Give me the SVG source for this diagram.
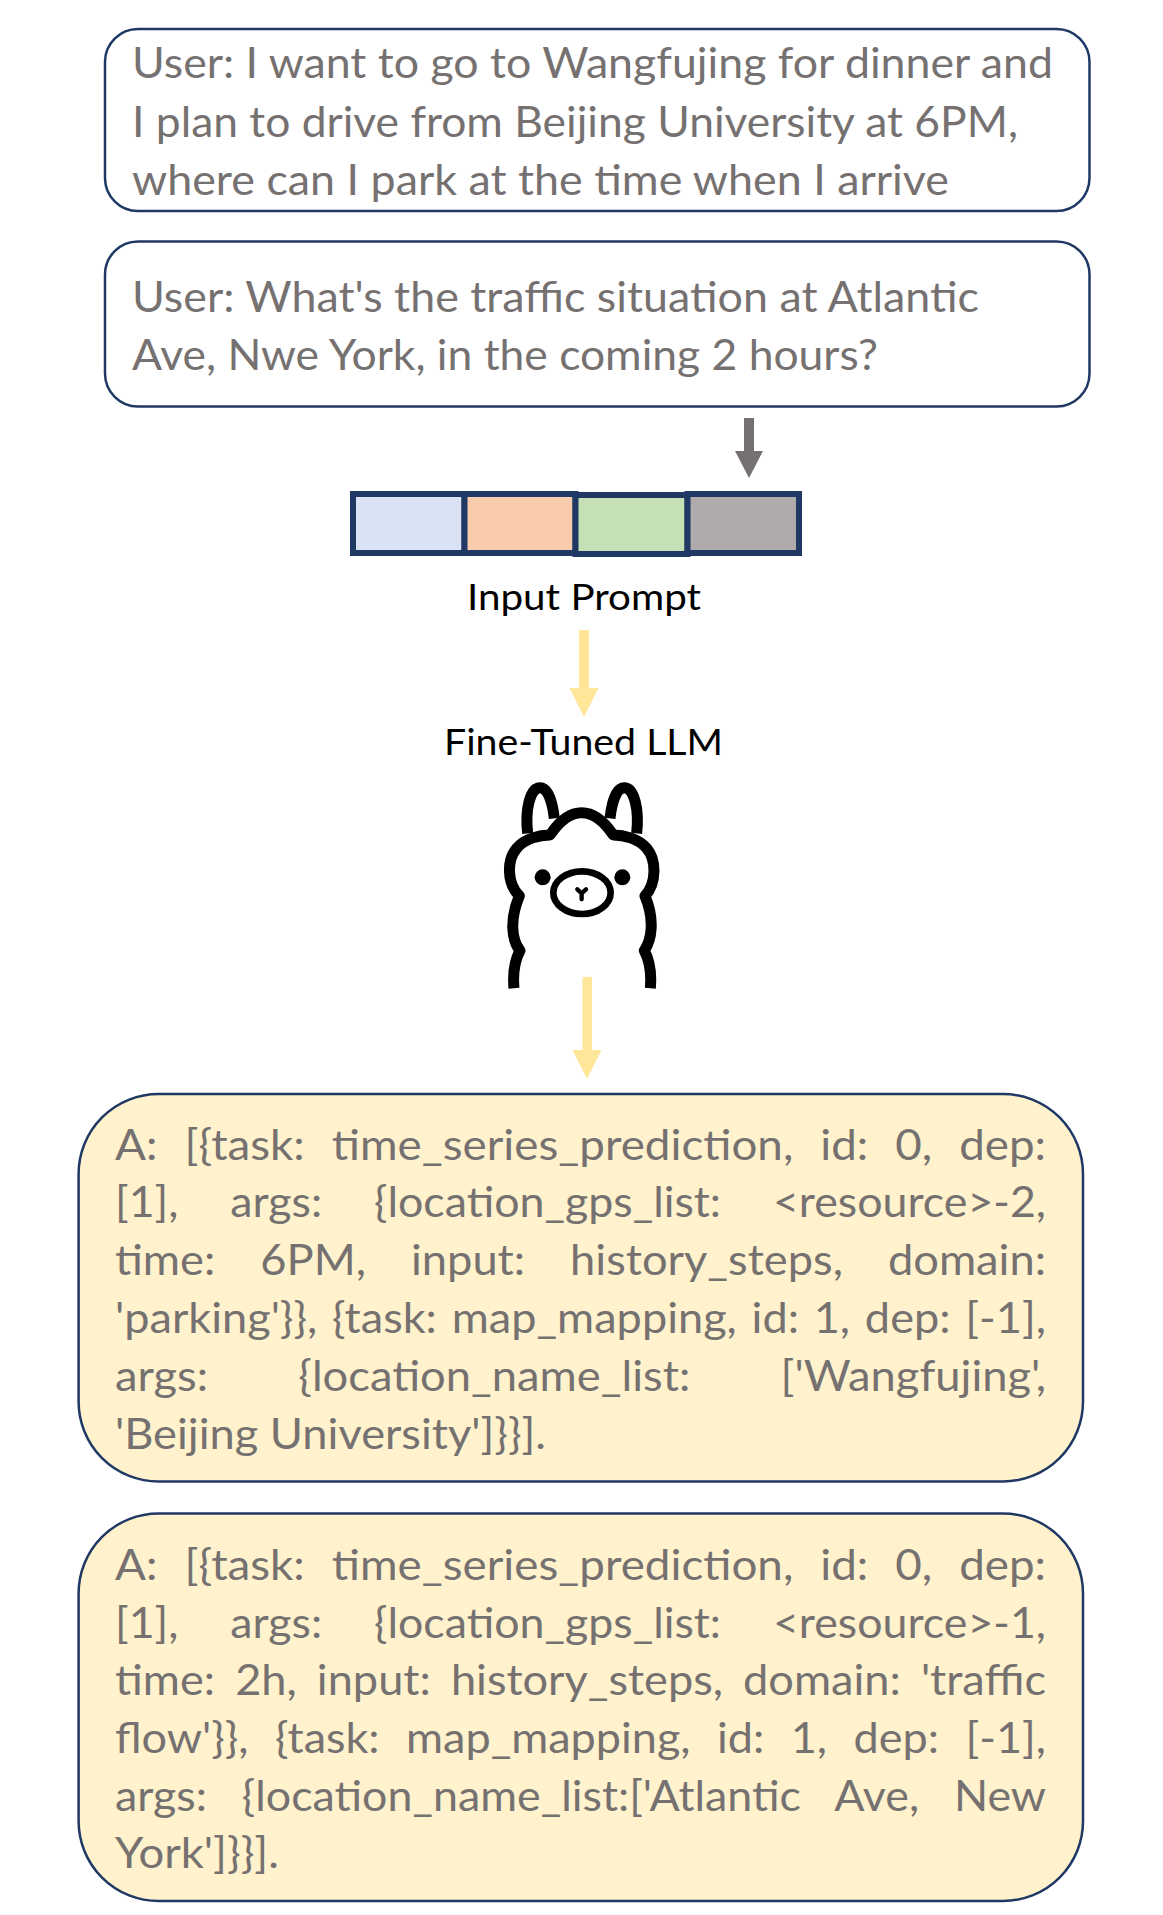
<svg xmlns="http://www.w3.org/2000/svg" width="1163" height="1915" viewBox="0 0 1163 1915">
<style>
text{font-family:"Lato","Carlito","Noto Sans",sans-serif;font-size:42px;fill:#767171}
.lbl{font-size:37px;fill:#000}
.u{fill:#fff;stroke:#1F3864;stroke-width:2.5}
.a{fill:#FFF2CC;stroke:#1F3864;stroke-width:2.5}
.c{stroke:#1F3864;stroke-width:6}
.ll{fill:none;stroke:#000;stroke-width:33;stroke-linejoin:round}
</style>
<rect width="1163" height="1915" fill="#fff"/>
<g id="user-query-1">
<rect class="u" x="105" y="29" width="984.500" height="182" rx="33"/>
<text x="132" y="78" textLength="921" lengthAdjust="spacingAndGlyphs">User: I want to go to Wangfujing for dinner and</text>
<text x="132" y="136.500" textLength="886" lengthAdjust="spacingAndGlyphs">I plan to drive from Beijing University at 6PM,</text>
<text x="132" y="194.500" textLength="817" lengthAdjust="spacingAndGlyphs">where can I park at the time when I arrive</text>
</g>
<g id="user-query-2">
<rect class="u" x="105" y="241.500" width="984.500" height="165" rx="33"/>
<text x="132" y="312" textLength="847" lengthAdjust="spacingAndGlyphs">User: What's the traffic situation at Atlantic</text>
<text x="132" y="369.500" textLength="746" lengthAdjust="spacingAndGlyphs">Ave, Nwe York, in the coming 2 hours?</text>
</g>
<g id="input-prompt">
<rect class="c" x="353" y="494" width="111.500" height="59" fill="#DAE3F3"/>
<rect class="c" x="464.500" y="494" width="111" height="59" fill="#F8CBAD"/>
<rect class="c" x="575.500" y="495" width="112" height="59" fill="#C5E0B4"/>
<rect class="c" x="687.500" y="494" width="111.500" height="59" fill="#AFABAB"/>
<text class="lbl" x="467" y="610" textLength="234" lengthAdjust="spacingAndGlyphs">Input Prompt</text>
</g>
<g id="fine-tuned-llm">
<text class="lbl" x="444" y="755" textLength="279" lengthAdjust="spacingAndGlyphs">Fine-Tuned LLM</text>
<g transform="translate(400,620) scale(.3333)">
<path class="ll" d="M342,1105C338,1060 345,1020 360,992C335,960 328,900 358,828C320,790 320,720 350,685C375,655 420,645 450,645C480,600 510,578 545,578C580,578 610,600 640,645C670,645 715,655 740,685C770,720 770,790 735,828C765,900 755,960 733,992C748,1020 755,1060 751,1105"/>
<path class="ll" d="M383,640C375,570 390,503 420,503C445,503 458,550 463,595"/>
<path class="ll" d="M710,640C718,570 703,503 673,503C648,503 635,550 630,595"/>
<circle cx="428" cy="772" r="24"/>
<circle cx="667" cy="772" r="24"/>
<ellipse cx="546" cy="818" rx="86" ry="64" fill="none" stroke="#000" stroke-width="20"/>
<path d="M532,808L545,820L558,808M545,820V838" fill="none" stroke="#000" stroke-width="13" stroke-linecap="round"/>
</g>
</g>
<g id="answer-1">
<rect class="a" x="78.600" y="1094" width="1004.400" height="387.500" rx="80"/>
<text x="115" y="1160" textLength="931" word-spacing="14" lengthAdjust="spacingAndGlyphs">A: [{task: time_series_prediction, id: 0, dep:</text>
<text x="115" y="1217" textLength="931" word-spacing="38" lengthAdjust="spacingAndGlyphs">[1], args: {location_gps_list: &lt;resource&gt;-2,</text>
<text x="115" y="1275" textLength="931" word-spacing="31" lengthAdjust="spacingAndGlyphs">time: 6PM, input: history_steps, domain:</text>
<text x="115" y="1333" textLength="931" word-spacing="3" lengthAdjust="spacingAndGlyphs">'parking'}}, {task: map_mapping, id: 1, dep: [-1],</text>
<text x="115" y="1391" textLength="931" word-spacing="73" lengthAdjust="spacingAndGlyphs">args: {location_name_list: ['Wangfujing',</text>
<text x="115" y="1448.500" textLength="431" lengthAdjust="spacingAndGlyphs">'Beijing University']}}].</text>
</g>
<g id="answer-2">
<rect class="a" x="78.600" y="1513.500" width="1004.400" height="387.500" rx="80"/>
<text x="115" y="1579.500" textLength="931" word-spacing="14" lengthAdjust="spacingAndGlyphs">A: [{task: time_series_prediction, id: 0, dep:</text>
<text x="115" y="1637.500" textLength="931" word-spacing="38" lengthAdjust="spacingAndGlyphs">[1], args: {location_gps_list: &lt;resource&gt;-1,</text>
<text x="115" y="1695" textLength="931" word-spacing="8" lengthAdjust="spacingAndGlyphs">time: 2h, input: history_steps, domain: 'traffic</text>
<text x="115" y="1752.500" textLength="931" word-spacing="14" lengthAdjust="spacingAndGlyphs">flow'}}, {task: map_mapping, id: 1, dep: [-1],</text>
<text x="115" y="1810.500" textLength="931" word-spacing="22" lengthAdjust="spacingAndGlyphs">args: {location_name_list:['Atlantic Ave, New</text>
<text x="115" y="1868" textLength="164" lengthAdjust="spacingAndGlyphs">York']}}].</text>
</g>
<g id="connectors">
<path fill="#767171" d="M744,418H754V451H763L749,478L735,451H744Z"/>
<path fill="#FFE699" d="M579,630H589V688H598.500L584,717L569.500,688H579Z"/>
<path fill="#FFE699" d="M582.500,977H592V1050H601.500L587,1079L572.500,1050H582.500Z"/>
</g>
</svg>
